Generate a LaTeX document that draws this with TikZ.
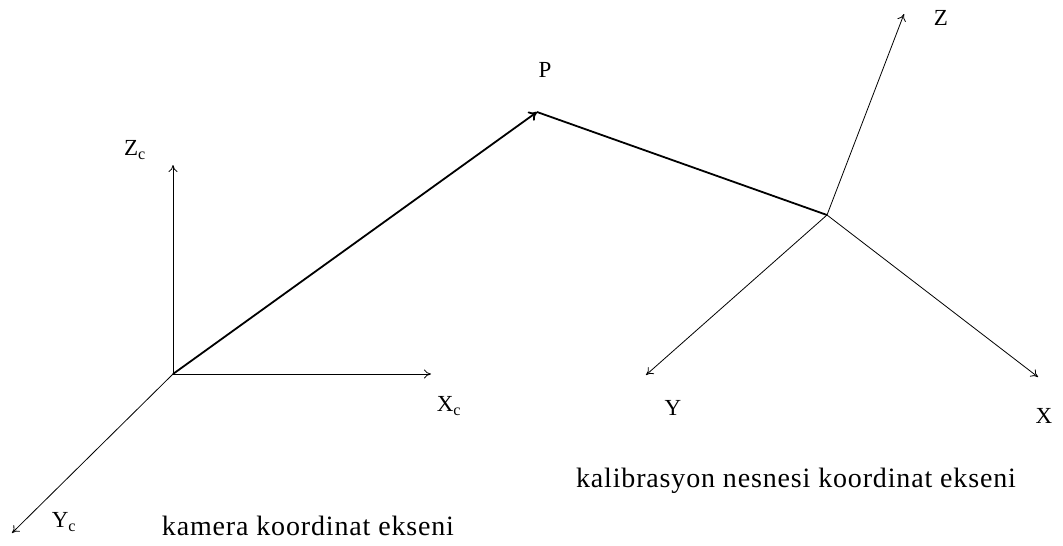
\documentclass[tikz,border=0pt]{standalone}
\usepackage{fontspec}
\setmainfont{Liberation Serif}
\newfontfamily\capfont[LetterSpace=3]{Liberation Serif}
\usetikzlibrary{arrows.meta}
\tikzset{
  axis/.style={draw=black, line width=0.8pt, -{To[length=7pt,width=9pt]}},
  vec/.style={draw=black, line width=1.8pt},
  lbl/.style={inner sep=0pt, font=\fontsize{23}{26}\selectfont},
  captext/.style={inner sep=0pt, anchor=base, font=\capfont\fontsize{28}{32}\selectfont},
}
\begin{document}
\begin{tikzpicture}[x=1pt,y=-1pt]
\useasboundingbox[fill=white] (0,0) rectangle (1063,546);
% camera frame
\coordinate (O) at (173,374);
\coordinate (Zc) at (173,165);
\coordinate (Xc) at (431,374);
\coordinate (Yc) at (12,533);
% calibration frame
\coordinate (C) at (827,215);
\coordinate (Z) at (904,14);
\coordinate (X) at (1038,377);
\coordinate (Y) at (646,375);
\coordinate (P) at (537,112);

\draw[axis] (O) -- (Zc);
\draw[axis] (O) -- (Xc);
\draw[axis] (O) -- (Yc);
\draw[axis] (C) -- (Z);
\draw[axis] (C) -- (X);
\draw[axis] (C) -- (Y);
\draw[vec] (C) -- (P);
\draw[vec, -{To[length=8pt,width=11pt]}] (O) -- (P);

\node[lbl] (lZc) at (135,150) {Z\textsubscript{c}};
\node[lbl] (lXc) at (449,406) {X\textsubscript{c}};
\node[lbl] (lYc) at (64,522) {Y\textsubscript{c}};
\node[lbl] (lP) at (545,70) {P};
\node[lbl] (lZ) at (941,18) {Z};
\node[lbl] (lX) at (1044,416) {X};
\node[lbl] (lY) at (673,408) {Y};
\node[captext] (c1) at (796,487) {kalibrasyon nesnesi koordinat ekseni};
\node[captext] (c2) at (308,535) {kamera koordinat ekseni};
\end{tikzpicture}
\end{document}
